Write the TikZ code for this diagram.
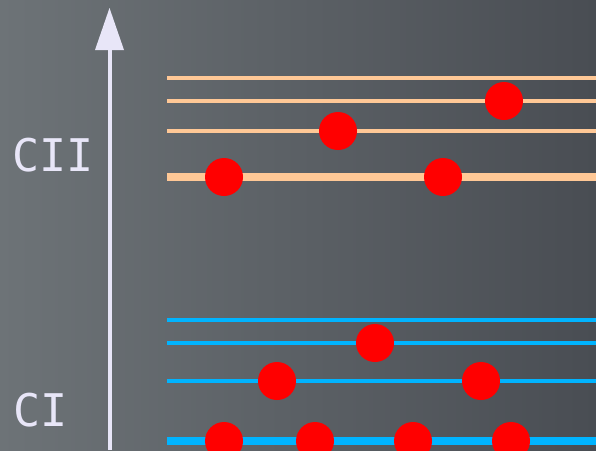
\documentclass[tikz,border=0pt]{standalone}
\usepackage{fontspec}
\newfontfamily\labfont{DejaVu Sans Mono}
\definecolor{bgL}{HTML}{6D7377}
\definecolor{bgR}{HTML}{494D53}
\definecolor{axiscol}{HTML}{E8E6F8}
\definecolor{peach}{HTML}{FFC896}
\definecolor{skyblue}{HTML}{00B4FF}
\begin{document}
\begin{tikzpicture}[x=1pt,y=-1pt,
  thinlvl/.style={line width=4pt},
  thicklvl/.style={line width=8pt},
  electron/.style={circle,fill=red,minimum size=38pt,inner sep=0pt},
  lab/.style={text=axiscol,font=\labfont\fontsize{45}{45}\selectfont,anchor=center,inner sep=0pt}]
\shade[left color=bgL,right color=bgR] (0,0) rectangle (596,450);
\useasboundingbox (0,0) rectangle (596,450);
% axis
\coordinate (ax0) at (110,450);
\coordinate (ax1) at (110,50);
\draw[axiscol,line width=4pt] (ax0) -- (ax1);
\fill[axiscol] (95,50) -- (109.5,8) -- (124,50) -- cycle;
% labels
\node[lab] (cii) at (53,155) {CII};
\node[lab] (ci) at (41,410) {CI};
% peach levels
\foreach \y/\s in {78/thinlvl,101/thinlvl,131/thinlvl,177/thicklvl}
  \draw[peach,\s] (167,\y) -- (596,\y);
% blue levels
\foreach \y/\s in {320/thinlvl,343/thinlvl,381/thinlvl,441/thicklvl}
  \draw[skyblue,\s] (167,\y) -- (596,\y);
% electrons
\foreach \x/\y in {504/101,338/131,224/177,443/177,375/343,277/381,481/381,224/441,315/441,413/441,511/441}
  \node[electron] at (\x,\y) {};
\end{tikzpicture}
\end{document}
